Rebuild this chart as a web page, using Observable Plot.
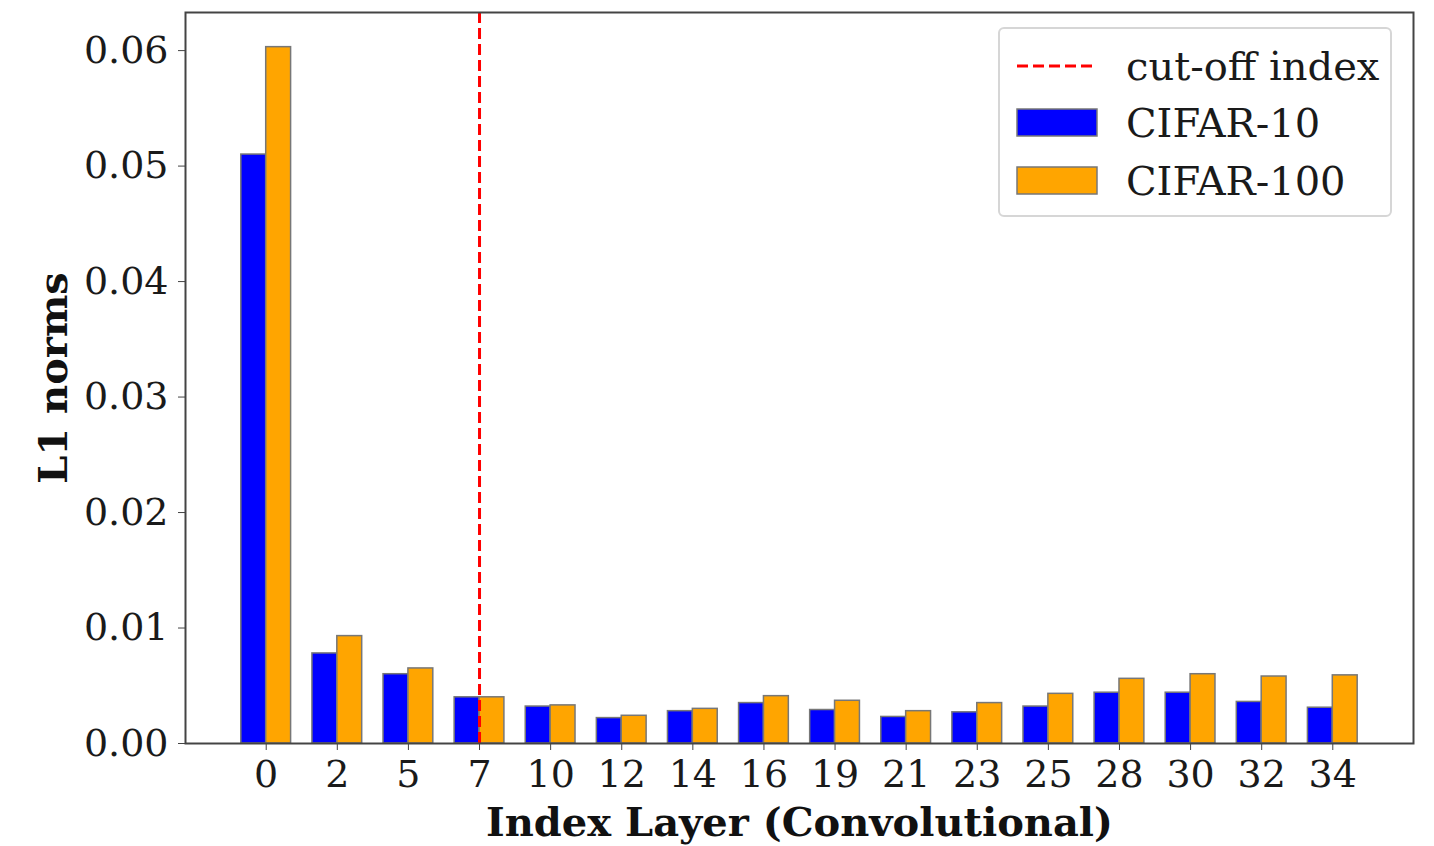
<!DOCTYPE html>
<html>
<head>
<meta charset="utf-8">
<script src="https://cdn.jsdelivr.net/npm/d3@7"></script>
<script src="https://cdn.jsdelivr.net/npm/@observablehq/plot@0.6"></script>
<style>
  body { margin: 0; background: #fff; }
  #wrap { position: relative; width: 1434px; height: 846px; font-family: "DejaVu Serif", serif; }
  #legend { position: absolute; left: 998px; top: 27px; width: 394px; height: 190px; border: 2px solid #d6d6d6; border-radius: 6px; background: rgba(255,255,255,0.9); box-sizing: border-box; }
  .item { position: absolute; left: 16px; display: flex; align-items: center; font-size: 40px; color: #1a1a1a; }
  .item svg { margin-right: 28px; }
</style>
</head>
<body>
<div id="wrap"></div>
<script>
const layers = ["0","2","5","7","10","12","14","16","19","21","23","25","28","30","32","34"];
const cifar10 = [0.0510,0.0078,0.0060,0.0040,0.0032,0.0022,0.0028,0.0035,0.0029,0.0023,0.0027,0.0032,0.0044,0.0044,0.0036,0.0031];
const cifar100 = [0.0603,0.0093,0.0065,0.0040,0.0033,0.0024,0.0030,0.0041,0.0037,0.0028,0.0035,0.0043,0.0056,0.0060,0.0058,0.0059];
const cutoffLayer = "7";
const seriesNames = ["CIFAR-10", "CIFAR-100"];
const seriesColors = ["blue", "orange"];
const yTicks = [0, 0.01, 0.02, 0.03, 0.04, 0.05, 0.06];
const barWidth = 0.35;

const rows = [];
layers.forEach((l, i) => {
  rows.push({i, layer: l, series: seriesNames[0], v: cifar10[i], off: -barWidth});
  rows.push({i, layer: l, series: seriesNames[1], v: cifar100[i], off: 0});
});
const cutIdx = layers.indexOf(cutoffLayer);

const chart = Plot.plot({
  width: 1434,
  height: 846,
  marginLeft: 185,
  marginRight: 21,
  marginTop: 12,
  marginBottom: 103,
  style: {fontFamily: "DejaVu Serif, serif", color: "#1a1a1a", background: "transparent"},
  x: {domain: [-1.135, layers.length - 1 + 1.135]},
  y: {domain: [0, 0.0633]},
  color: {domain: seriesNames, range: seriesColors},
  marks: [
    Plot.rectY(rows, {x1: d => d.i + d.off, x2: d => d.i + d.off + barWidth, y1: 0, y2: "v", fill: "series", stroke: "#777", strokeWidth: 1.5}),
    Plot.ruleX([cutIdx], {stroke: "red", strokeWidth: 3, strokeDasharray: "11,5"}),
    Plot.frame({stroke: "#444", strokeWidth: 2}),
    Plot.axisY({ticks: yTicks, tickFormat: ".2f", fontSize: 38, tickSize: 7, tickPadding: 10, label: null, stroke: "#444"}),
    Plot.axisX({ticks: d3.range(layers.length), tickFormat: i => layers[i], fontSize: 38, tickSize: 7, tickPadding: 10, label: null, stroke: "#444"}),
    Plot.text(["Index Layer (Convolutional)"], {frameAnchor: "bottom", lineAnchor: "middle", textAnchor: "middle", dy: 80, fontSize: 40, fontWeight: "bold", fill: "#111"}),
    Plot.text(["L1 norms"], {frameAnchor: "left", lineAnchor: "middle", textAnchor: "middle", dx: -131, rotate: -90, fontSize: 40, fontWeight: "bold", fill: "#111"})
  ]
});
const wrap = document.getElementById("wrap");
wrap.appendChild(chart);

const legend = document.createElement("div");
legend.id = "legend";
legend.innerHTML = `
  <div class="item" style="top:12px"><svg width="82" height="50"><line x1="1" y1="25" x2="81" y2="25" stroke="red" stroke-width="3" stroke-dasharray="11,5"/></svg>cut-off index</div>
  <div class="item" style="top:69px"><svg width="82" height="50"><rect x="1" y="11" width="80" height="27" fill="${seriesColors[0]}" stroke="#777" stroke-width="1.5"/></svg>${seriesNames[0]}</div>
  <div class="item" style="top:127px"><svg width="82" height="50"><rect x="1" y="11" width="80" height="27" fill="${seriesColors[1]}" stroke="#777" stroke-width="1.5"/></svg>${seriesNames[1]}</div>
`;
wrap.appendChild(legend);
</script>
</body>
</html>
